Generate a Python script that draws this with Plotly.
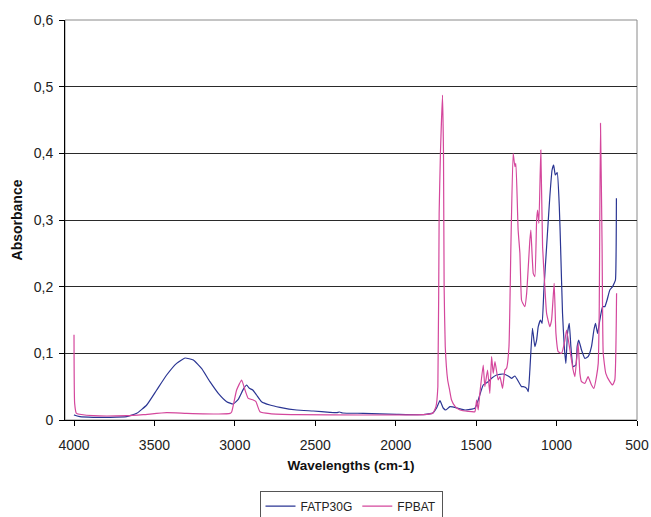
import plotly.graph_objects as go

# FATP30G (blue)
fatp_wn = [4000, 3994, 3963, 3880, 3776, 3673, 3610, 3548, 3486, 3424, 3362, 3310, 3258, 3206, 3155,
           3103, 3051, 3010, 2979, 2948, 2927, 2910, 2889, 2865, 2834, 2782, 2720, 2616, 2513, 2409,
           2367, 2350, 2330, 2202, 1994, 1829, 1767, 1746, 1725, 1705, 1688, 1663, 1611, 1570, 1508,
           1487, 1456, 1425, 1404, 1373, 1332, 1301, 1280, 1259, 1218, 1207, 1186, 1176, 1166, 1150,
           1135, 1124, 1114, 1100, 1090, 1079, 1062, 1042, 1028, 1018, 1008, 996, 983, 975, 963,
           952, 942, 932, 921, 911, 897, 880, 872, 862, 845, 824, 804, 783, 768, 758,
           745, 731, 714, 700, 686, 669, 652, 642, 634, 628]
fatp_abs = [0.008, 0.007, 0.005, 0.004, 0.004, 0.005, 0.010, 0.0225, 0.045, 0.0675, 0.085, 0.093, 0.090, 0.077, 0.0575,
            0.040, 0.0275, 0.024, 0.031, 0.046, 0.0525, 0.0475, 0.045, 0.0375, 0.0275, 0.0225, 0.019, 0.015, 0.0135, 0.0115,
            0.011, 0.012, 0.0105, 0.010, 0.0085, 0.008, 0.011, 0.018, 0.029, 0.018, 0.015, 0.020, 0.0175, 0.015, 0.0175,
            0.030, 0.0525, 0.0575, 0.0625, 0.0675, 0.069, 0.066, 0.0625, 0.066, 0.050, 0.050, 0.0475, 0.0425, 0.075, 0.1375,
            0.110, 0.120, 0.140, 0.150, 0.145, 0.195, 0.260, 0.335, 0.375, 0.3825, 0.3675, 0.371, 0.320, 0.260, 0.160,
            0.110, 0.085, 0.130, 0.145, 0.110, 0.080, 0.0825, 0.110, 0.120, 0.105, 0.0925, 0.095, 0.110, 0.135, 0.145,
            0.130, 0.150, 0.170, 0.170, 0.180, 0.195, 0.200, 0.205, 0.210, 0.3325]

# FPBAT (pink)
fpbat_wn = [4000, 3996, 3985, 3880, 3673, 3570, 3424, 3300, 3100, 3030, 3020, 2989, 2958, 2937, 2917,
            2886, 2869, 2844, 2782, 2616, 2202, 1829, 1770, 1750, 1738, 1730, 1722, 1709, 1703, 1699,
            1692, 1677, 1665, 1653, 1630, 1600, 1550, 1508, 1497, 1487, 1477, 1456, 1446, 1429, 1415,
            1404, 1394, 1383, 1363, 1352, 1336, 1321, 1311, 1296, 1284, 1270, 1259, 1253, 1239, 1228,
            1218, 1210, 1197, 1186, 1166, 1160, 1145, 1135, 1124, 1118, 1110, 1098, 1087, 1073, 1062,
            1042, 1031, 1015, 1004, 990, 969, 948, 938, 917, 897, 886, 866, 855, 845, 824,
            804, 783, 768, 752, 741, 735, 727, 717, 710, 694, 669, 652, 638, 627]
fpbat_abs = [0.128, 0.025, 0.010, 0.0065, 0.0065, 0.008, 0.011, 0.010, 0.009, 0.010, 0.012, 0.045, 0.060, 0.045, 0.0325,
             0.030, 0.0275, 0.0125, 0.0095, 0.008, 0.0075, 0.008, 0.010, 0.020, 0.050, 0.310, 0.400, 0.4875, 0.400, 0.200,
             0.110, 0.060, 0.045, 0.030, 0.020, 0.015, 0.013, 0.0125, 0.030, 0.015, 0.040, 0.0825, 0.050, 0.075, 0.040,
             0.095, 0.070, 0.0875, 0.060, 0.065, 0.0475, 0.075, 0.0775, 0.110, 0.260, 0.400, 0.380, 0.385, 0.285, 0.250,
             0.180, 0.175, 0.170, 0.190, 0.270, 0.285, 0.220, 0.215, 0.300, 0.315, 0.295, 0.405, 0.260, 0.200, 0.160,
             0.140, 0.150, 0.205, 0.130, 0.1025, 0.100, 0.120, 0.135, 0.105, 0.075, 0.065, 0.115, 0.070, 0.0575, 0.055,
             0.065, 0.0525, 0.0475, 0.065, 0.085, 0.160, 0.445, 0.260, 0.100, 0.070, 0.0575, 0.0525, 0.060, 0.190]

x_ticks = [4000, 3500, 3000, 2500, 2000, 1500, 1000, 500]
y_ticks = [0, 0.1, 0.2, 0.3, 0.4, 0.5, 0.6]
y_tick_labels = ["0", "0,1", "0,2", "0,3", "0,4", "0,5", "0,6"]

FONT = "Liberation Sans, Arial, sans-serif"

fig = go.Figure()
fig.add_trace(go.Scatter(x=fatp_wn, y=fatp_abs, mode="lines", name="FATP30G",
                         line=dict(color="#2a3593", width=1.2, shape="spline", smoothing=0.4)))
fig.add_trace(go.Scatter(x=fpbat_wn, y=fpbat_abs, mode="lines", name="FPBAT",
                         line=dict(color="#d4479c", width=1.2, shape="spline", smoothing=0.4)))

fig.update_layout(
    template="none",
    width=651, height=517,
    margin=dict(l=65, r=14, t=20, b=97, autoexpand=False),
    paper_bgcolor="white", plot_bgcolor="white",
    font=dict(family=FONT, size=12, color="#222"),
    showlegend=True,
    legend=dict(orientation="h", x=0.5, xanchor="center", yref="container", y=0.051, yanchor="top",
                bordercolor="#555", borderwidth=1, font=dict(size=12, color="#222"),
                itemwidth=30, tracegroupgap=0),
    shapes=[dict(type="rect", xref="paper", yref="paper", x0=0, x1=1, y0=0, y1=1,
                 line=dict(color="#8a8a8a", width=1), layer="below")],
)
fig.update_xaxes(range=[4056, 500], tickvals=x_ticks, ticks="outside", ticklen=5, tickcolor="black",
                 showline=True, linecolor="black", linewidth=1, showgrid=False, zeroline=False,
                 automargin=False, ticklabelstandoff=7, tickfont=dict(size=14, color="#222"),
                 title=dict(text="<b>Wavelengths (cm-1)</b>", font=dict(size=13.5, color="#111"), standoff=8))
fig.update_yaxes(range=[0, 0.6], tickvals=y_ticks, ticktext=y_tick_labels, ticks="outside", ticklen=5,
                 tickcolor="black", showline=True, linecolor="black", linewidth=1,
                 showgrid=True, gridcolor="#2a2a2a", gridwidth=1, zeroline=False,
                 automargin=False, ticklabelstandoff=3, tickfont=dict(size=14, color="#222"),
                 title=dict(text="<b>Absorbance</b>", font=dict(size=14, color="#111"), standoff=7))

fig.write_html("out.html", config={"displayModeBar": False},
               post_script="document.body.style.margin='0';document.body.style.padding='0';")
